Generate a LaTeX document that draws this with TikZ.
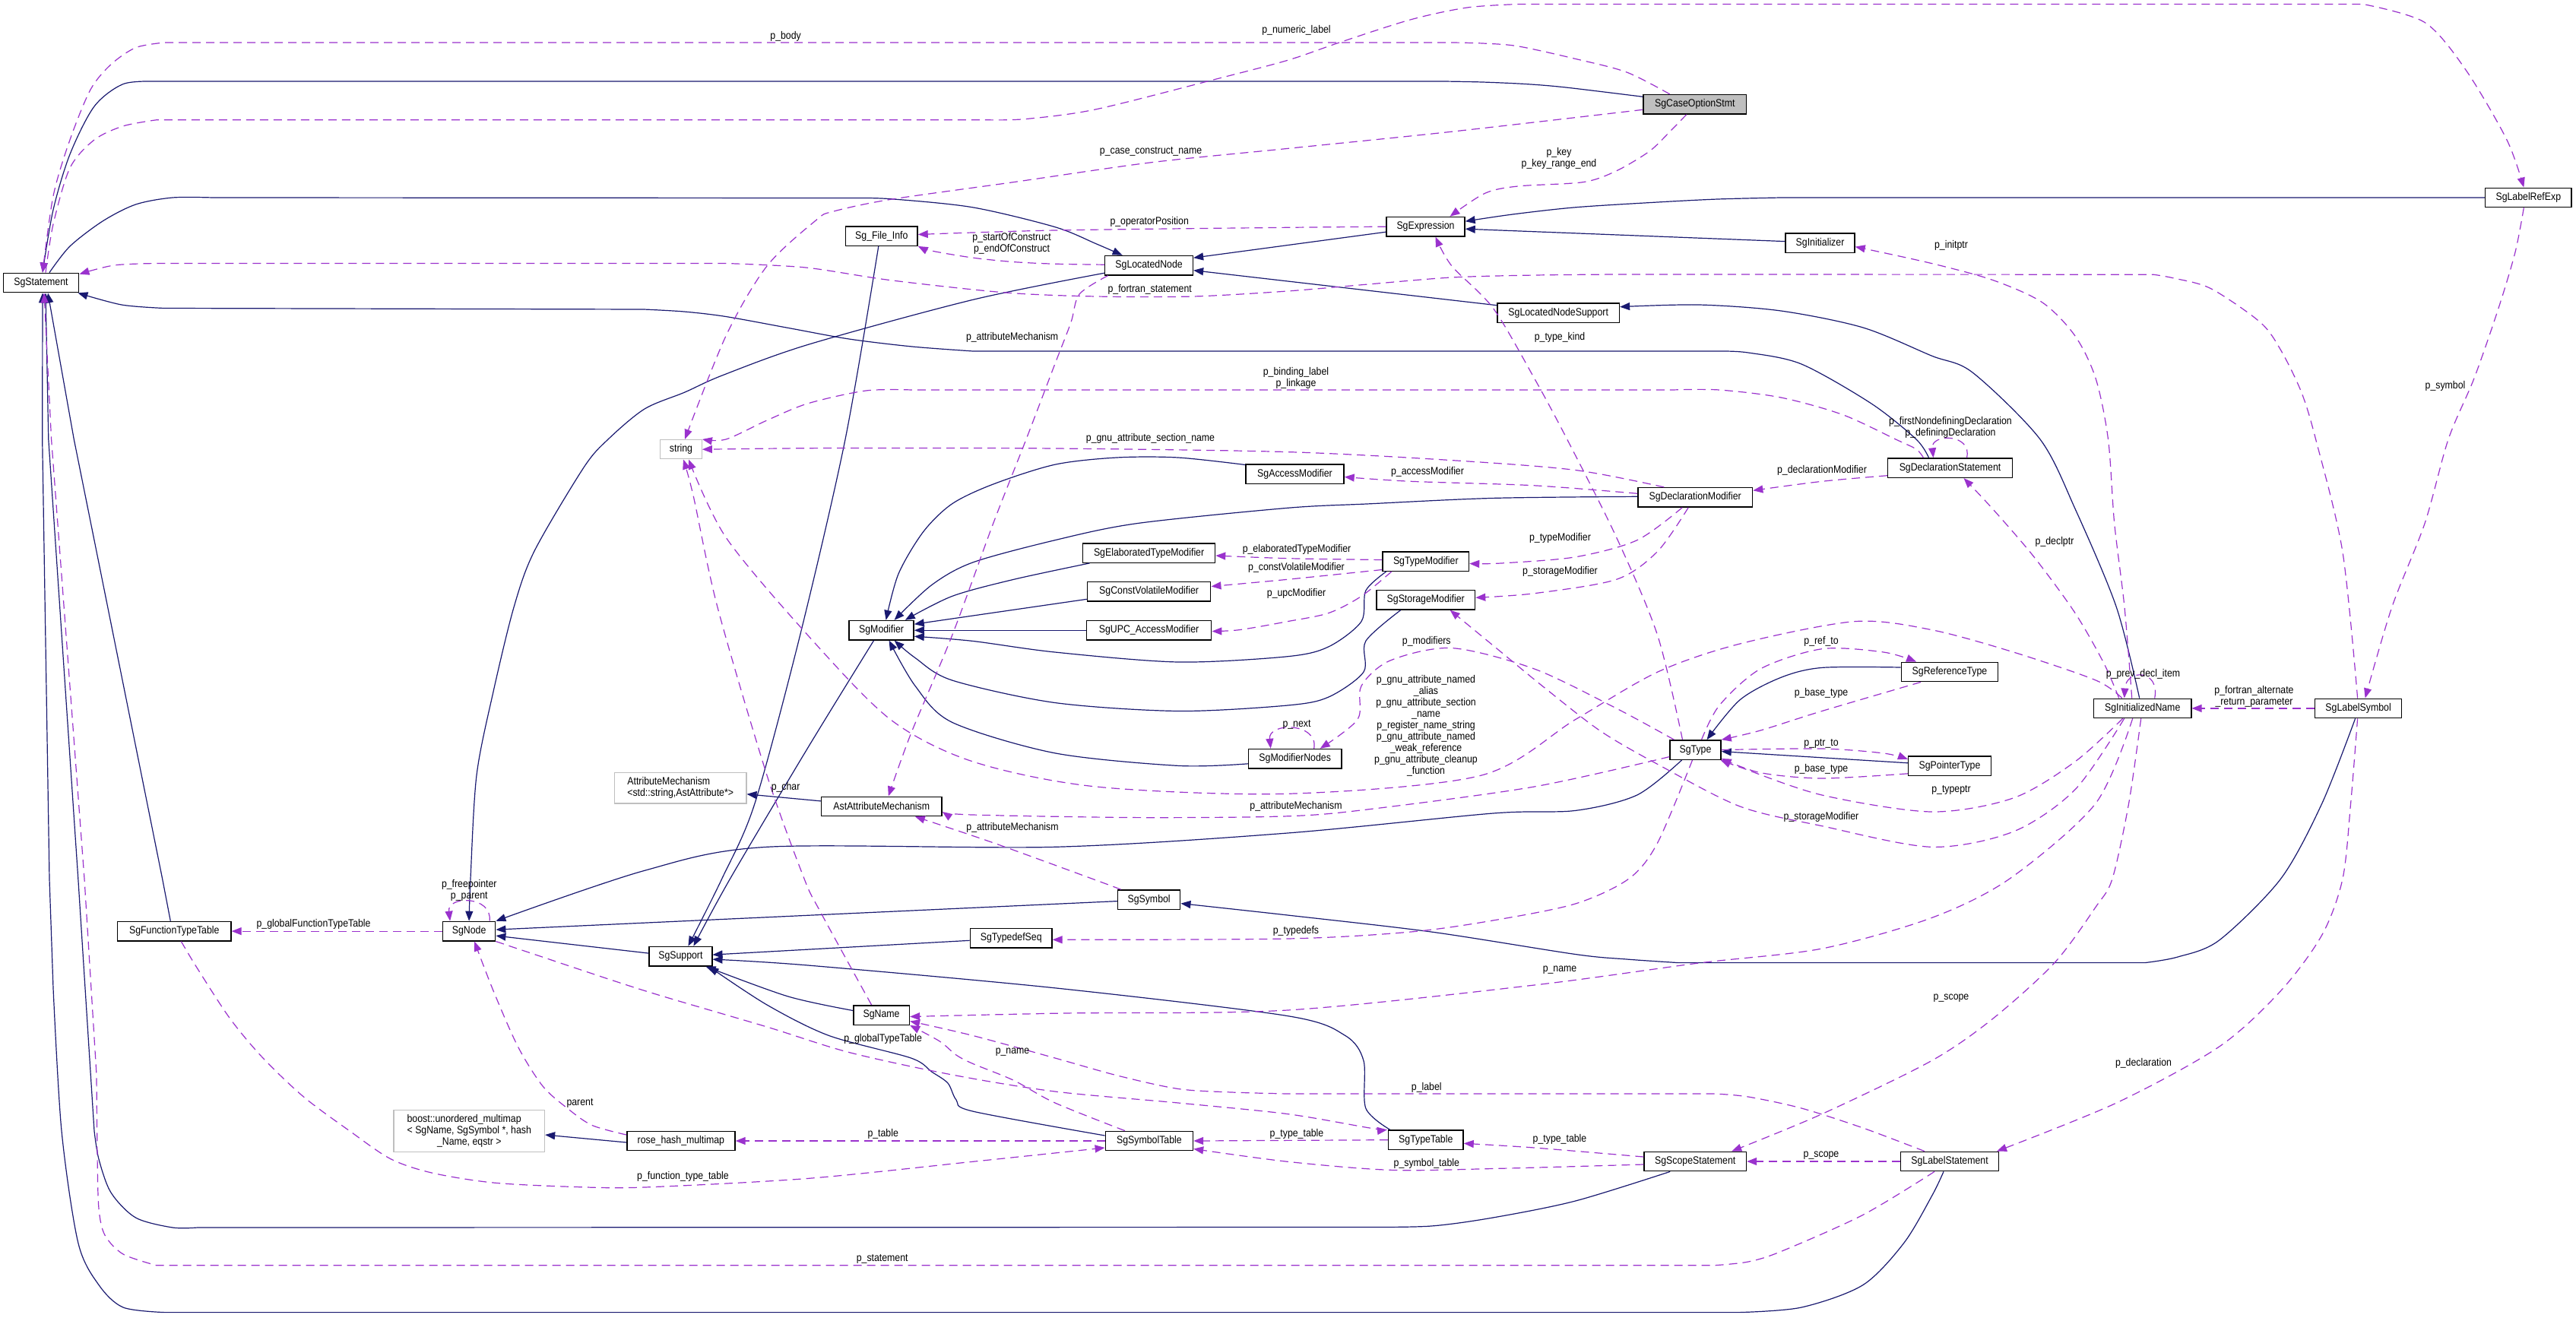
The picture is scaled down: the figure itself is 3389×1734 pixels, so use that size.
\documentclass[tikz,border=0pt]{standalone}
\usepackage{fontspec}
\setmainfont{Liberation Sans}[FakeStretch=0.88]
\usetikzlibrary{arrows.meta}
\definecolor{inhc}{HTML}{191970}
\definecolor{usec}{HTML}{9A32CD}
\definecolor{grayb}{HTML}{BFBFBF}
\newcommand\dgfont{\fontsize{14}{15}\selectfont}
\begin{document}
\begin{tikzpicture}[x=1pt,y=-1pt,
  cls/.style={draw=black, line width=1.4pt, fill=white, inner sep=0pt, minimum height=25.4pt, font=\dgfont},
  ext/.style={cls, draw=grayb, line width=1.1pt},
  inh/.style={draw=inhc, line width=1.2pt, -{Triangle[length=13pt,width=10pt]}},
  dep/.style={draw=usec, line width=1.2pt, dash pattern=on 11pt off 7pt, -{Triangle[length=13pt,width=10pt]}},
  lbl/.style={inner sep=0pt, font=\dgfont, align=center}]
\fill[white] (0,0) rectangle (3389,1734);
\useasboundingbox (0,0) rectangle (3389,1734);
% ---------------- classes ----------------
\node[cls, fill=grayb, minimum width=135.5pt] (CaseOpt) at (2229.8,137.3) {SgCaseOptionStmt};
\node[cls, minimum width=99.5pt] (Stmt) at (54,372) {SgStatement};
\node[cls, minimum width=113.5pt] (LabelRefExp) at (3326.3,260) {SgLabelRefExp};
\node[cls, minimum width=103pt] (Expr) at (1875.5,298.2) {SgExpression};
\node[cls, minimum width=94.5pt] (FileInfo) at (1159.8,310.5) {Sg\_File\_Info};
\node[cls, minimum width=115.7pt] (LocNode) at (1511.6,349.2) {SgLocatedNode};
\node[cls, minimum width=91pt] (Initializer) at (2394.5,319.6) {SgInitializer};
\node[cls, minimum width=160.4pt] (LNSupport) at (2050.2,411.7) {SgLocatedNodeSupport};
\node[cls, minimum width=164pt] (DeclStmt) at (2565.5,615.7) {SgDeclarationStatement};
\node[ext, minimum width=54.7pt] (Str) at (896,591.2) {string};
\node[cls, minimum width=129pt] (AccessMod) at (1703.5,623.5) {SgAccessModifier};
\node[cls, minimum width=150.8pt] (DeclMod) at (2230.2,654.3) {SgDeclarationModifier};
\node[cls, minimum width=174pt] (ElabMod) at (1511.6,727.5) {SgElaboratedTypeModifier};
\node[cls, minimum width=113.5pt] (TypeMod) at (1875.8,738.5) {SgTypeModifier};
\node[cls, minimum width=162.3pt] (ConstVol) at (1511.6,778.3) {SgConstVolatileModifier};
\node[cls, minimum width=129.8pt] (StorageMod) at (1875.7,789.3) {SgStorageModifier};
\node[cls, minimum width=85pt] (Modifier) at (1159.6,829.2) {SgModifier};
\node[cls, minimum width=164.3pt] (UPCAccess) at (1511.6,829.2) {SgUPC\_AccessModifier};
\node[cls, minimum width=127.2pt] (RefType) at (2565,884) {SgReferenceType};
\node[cls, minimum width=128.2pt] (InitName) at (2818.7,931.9) {SgInitializedName};
\node[cls, minimum width=114pt] (LabelSym) at (3102.6,931.9) {SgLabelSymbol};
\node[cls, minimum width=122.5pt] (ModNodes) at (1703.7,998.2) {SgModifierNodes};
\node[cls, minimum width=67pt] (SgTypeN) at (2230.5,986.6) {SgType};
\node[cls, minimum width=108.8pt] (PtrType) at (2565,1007.8) {SgPointerType};
\node[ext, minimum width=173.5pt, minimum height=40.4pt, align=left] (AttrMech) at (895.2,1036.8) {AttributeMechanism\\<std::string,AstAttribute*>};
\node[cls, minimum width=158.4pt] (AstAttr) at (1159.8,1060.9) {AstAttributeMechanism};
\node[cls, minimum width=149.3pt] (FuncTT) at (229.3,1225.1) {SgFunctionTypeTable};
\node[cls, minimum width=69.2pt] (SgNodeN) at (617.1,1225.1) {SgNode};
\node[cls, minimum width=82.3pt] (Symbol) at (1511.6,1183.6) {SgSymbol};
\node[cls, minimum width=107.6pt] (TypedefSeq) at (1330.2,1234.3) {SgTypedefSeq};
\node[cls, minimum width=82.8pt] (Support) at (895.4,1258.1) {SgSupport};
\node[cls, minimum width=73.6pt] (SgNameN) at (1159.6,1335.5) {SgName};
\node[ext, minimum width=198.6pt, minimum height=55pt] (Boost) at (617.3,1488) {\begin{tabular}{@{}l@{}}boost::unordered\_multimap\\< SgName, SgSymbol *, hash\\\multicolumn{1}{@{}c@{}}{\_Name, eqstr >}\end{tabular}};
\node[cls, minimum width=142.2pt] (RoseHash) at (895.9,1501) {rose\_hash\_multimap};
\node[cls, minimum width=115.2pt] (SymTable) at (1511.9,1501) {SgSymbolTable};
\node[cls, minimum width=98.5pt] (TypeTable) at (1875.8,1499.7) {SgTypeTable};
\node[cls, minimum width=134.5pt] (ScopeStmt) at (2230.2,1528) {SgScopeStatement};
\node[cls, minimum width=129.4pt] (LabelStmt) at (2565,1528) {SgLabelStatement};
% ---------------- inheritance ----------------
\draw[inh] plot[smooth,tension=0.5] coordinates {([yshift=10pt]CaseOpt.west) (2060,115) (2008,110.6) (1950,108) (1899,107)} -- plot[smooth,tension=0.5] coordinates {(205,107) (162,110.6) (124,140) (92,203) (70,276) ([xshift=2pt]Stmt.north)};
\draw[inh] plot[smooth,tension=0.5] coordinates {([xshift=11pt]Stmt.north) (92,324) (135,291) (178.5,269) (227,260) (280,260)} -- plot[smooth,tension=0.5] coordinates {(1120,260.5) (1171.5,261.7) (1279.6,272.8) (1387.8,298.6) (1442,320.7) ([xshift=-35pt]LocNode.north)};
\draw[inh] ([yshift=-7pt]Expr.west) -- ([yshift=10pt]LocNode.east);
\draw[inh] (LabelRefExp.west) -- plot[smooth,tension=0.5] coordinates {(2343,260) (2260,262) (2180.7,266) (2072.6,272.8) (1990,282) ([yshift=7pt]Expr.east)};
\draw[inh] ([yshift=2pt]Initializer.west) -- ([yshift=-3pt]Expr.east);
\draw[inh] plot[smooth,tension=0.5] coordinates {([yshift=-10pt]LocNode.west) (1279.6,394.4) (1063,453.4) (950,494) (901,516) (848,538) (800,578) (768,615) (703,725) (676,799) (649,910) (627,1020) (619,1156) (SgNodeN.north)};
\draw[inh] ([yshift=10pt]LNSupport.west) -- ([yshift=-6.5pt]LocNode.east);
\draw[inh] plot[smooth,tension=0.5] coordinates {([xshift=-28pt]DeclStmt.north) (2521,578) (2462,531) (2370,479) (2300,464) (2262,462)} -- plot[smooth,tension=0.5] coordinates {(1280,462) (1200,456) (1117,446) (1040,432) (955,416.5) (900,410) (847,407)} -- plot[smooth,tension=0.5] coordinates {(216,405.5) (160,401) ([xshift=-2pt]Stmt.south east)};
\draw[inh] plot[smooth,tension=0.5] coordinates {([xshift=-4pt]InitName.north) (2784.4,799) (2730.3,670) (2684,578) (2595,490) (2541,468) (2451,431) (2343,409) (2235,401) ([yshift=8pt]LNSupport.east)};
\draw[inh] plot[smooth,tension=0.5] coordinates {([xshift=-4pt]FileInfo.south) (1112,578) (1052.5,836) (993,1057) (949.8,1156) ([xshift=10pt]Support.north)};
\draw[inh] plot[smooth,tension=0.5] coordinates {([xshift=-10pt]Modifier.south) (1063,983.5) (960.6,1156) ([xshift=17pt]Support.north)};
\draw[inh] plot[smooth,tension=0.5] coordinates {([yshift=12pt]AccessMod.west) (1550,602) (1469,602) (1387.8,611.2) (1306.7,637) (1252.6,662.8) (1214.7,699.6) (1182,755) ([xshift=6pt]Modifier.north)};
\draw[inh] plot[smooth,tension=0.5] coordinates {([yshift=1pt]DeclMod.west) (1964,655.4) (1802,662.8) (1694,668.3) (1496,688.6) (1387.8,710.7) (1279.6,740) (1225.6,769.7) ([xshift=17pt]Modifier.north)};
\draw[inh] plot[smooth,tension=0.5] coordinates {([xshift=-78pt]ElabMod.south) (1333.7,762.3) (1252.6,784.4) ([xshift=-12pt]Modifier.north east)};
\draw[inh] ([yshift=-10pt]ConstVol.west) -- ([yshift=8pt]Modifier.east);
\draw[inh] (UPCAccess.west) -- (Modifier.east);
\draw[inh] plot[smooth,tension=0.5] coordinates {([xshift=-52pt]TypeMod.south) (1796.8,777) (1791,817.6) (1748,850.8) (1694,863.7) (1550,871) (1387.8,858) (1279.6,843.4) ([yshift=-8pt]Modifier.east)};
\draw[inh] plot[smooth,tension=0.5] coordinates {([xshift=-33pt]StorageMod.south) (1796.8,843.4) (1794,884) (1748,917) (1694,928) (1550,935.5) (1387.8,924.5) (1252.6,895) (1204,865.5) ([xshift=17pt]Modifier.south)};
\draw[inh] plot[smooth,tension=0.5] coordinates {([yshift=-6.6pt]ModNodes.west) (1550,1007.4) (1387.8,990.8) (1252.6,950.3) (1204,902.4) ([xshift=10pt]Modifier.south)};
\draw[inh] ([yshift=7pt]AstAttr.west) -- ([yshift=-8pt]AttrMech.east);
\draw[inh] plot[smooth,tension=0.5] coordinates {([xshift=-18pt]SgTypeN.south) (2153.7,1046) (2072.6,1066.4) (1964.4,1070) (1694,1096) (1387.8,1114.3) (1009,1114.3) (847,1145.6) (SgNodeN.north east)};
\draw[inh] plot[smooth,tension=0.5] coordinates {([yshift=6pt]RefType.west) (2397,878.4) (2343,891.3) (2289,920.8) ([xshift=15pt]SgTypeN.north)};
\draw[inh] ([yshift=4pt]PtrType.west) -- ([yshift=-2pt]SgTypeN.east);
\draw[inh] ([yshift=-2pt]Symbol.west) -- ([yshift=2pt]SgNodeN.east);
\draw[inh] plot[smooth,tension=0.5] coordinates {([xshift=-4pt]LabelSym.south) (3054.8,1057) (3000.7,1156) (2919.6,1237) (2865,1259) (2822,1266.6)} -- plot[smooth,tension=0.5] coordinates {(2207.8,1266.6) (2140,1262) (2072.6,1255.5) (1883,1226) (1694,1204) ([yshift=-5pt]Symbol.east)};
\draw[inh] ([yshift=-3pt]TypedefSeq.west) -- ([yshift=2pt]Support.east);
\draw[inh] plot[smooth,tension=0.5] coordinates {([yshift=6pt]SgNameN.west) (1036.3,1310.8) ([xshift=-9pt]Support.south east)};
\draw[inh] plot[smooth,tension=0.5] coordinates {([yshift=7pt]SymTable.west) (1279.6,1462) (1258,1447) (1247,1425) (1225.6,1410) (1198.5,1392) (1090.4,1362.4) (1009,1322) ([xshift=-5pt]Support.south east)};
\draw[inh] plot[smooth,tension=0.5] coordinates {([xshift=-47pt]TypeTable.north) (1796.8,1458) (1794,1395.6) (1769.7,1362.4) (1694,1336.6) (1387.8,1299.8) (1063,1270) ([yshift=-4pt]Support.east)};
\draw[inh] ([yshift=4pt]Support.west) -- ([yshift=-6pt]SgNodeN.east);
\draw[inh] ([xshift=-5pt]FuncTT.north) -- (213.6,1156) -- (97.3,578) -- ([xshift=9pt]Stmt.south);
\draw[inh] plot[smooth,tension=0.5] coordinates {([xshift=-33pt]ScopeStmt.south) (2072.6,1580) (1964,1602) (1883,1613) (1800,1614.5)} -- plot[smooth,tension=0.5] coordinates {(260,1615) (227,1615) (178.5,1602) (146,1569) (130,1525) (124,1488)} -- (102.8,1156) -- (63.8,578) -- ([xshift=6pt]Stmt.south);
\draw[inh] plot[smooth,tension=0.5] coordinates {([xshift=-8pt]LabelStmt.south) (2542,1572.5) (2505,1635) (2451,1690.5) (2370,1720) (2289,1726.6)} -- plot[smooth,tension=0.5] coordinates {(216,1726.6) (162,1720) (130,1690.5) (102.8,1635) (81,1487.7) (70,1300)} -- (65,1156) -- (55.7,578) -- ([xshift=2pt]Stmt.south);
\draw[inh] ([yshift=-2pt]RoseHash.west) -- ([yshift=-5pt]Boost.east);
% ---------------- usage ----------------
\draw[dep] plot[smooth,tension=0.5] coordinates {([xshift=-33pt]CaseOpt.north) (2140,95) (2072.6,77.4) (1997,60.8) (1950,57) (1910,56)} -- plot[smooth,tension=0.5] coordinates {(216,56) (178.5,62.7) (146,84.8) (119,118) (92,184) (70,258) ([xshift=2pt]Stmt.north)};
\draw[dep] plot[smooth,tension=0.5] coordinates {([xshift=6pt]Stmt.north) (70,295) (92,221) (124,184) (162,165.9) (205.5,157.8)} -- plot[smooth,tension=0.5] coordinates {(1300,157.8) (1350,156.5) (1442,143.8) (1604,103) (1695,79) (1764,55.3) (1856,25.8) (1930,10) (1997,5.5)} -- plot[smooth,tension=0.5] coordinates {(3109,5.5) (3190,29.5) (3244,92) (3298,184) ([xshift=-6pt]LabelRefExp.north)};
\draw[dep] plot[smooth,tension=0.5] coordinates {([yshift=-7pt]CaseOpt.west) (1910,173.2) (1694,195.4) (1514,213.8) (1333.7,239.6) (1171.5,262.4) (1095.8,278.3) (1074,289.4) (1009,350) (955,442) ([xshift=5pt]Str.north)};
\draw[dep] plot[smooth,tension=0.5] coordinates {([xshift=-11pt]CaseOpt.south) (2197,173) (2170,199) (2126.6,224.8) (2083,239.6) (1997,245) (1953.6,254.3) ([xshift=32pt]Expr.north)};
\draw[dep] plot[smooth,tension=0.5] coordinates {(Expr.west) (1694,299.3) (1387.8,303) ([yshift=2pt]FileInfo.east)};
\draw[dep] plot[smooth,tension=0.5] coordinates {([yshift=1pt]LocNode.west) (1387.8,347.2) (1333.7,344.6) (1279.6,339.1) (1225.6,330) (FileInfo.south east)};
\draw[dep] plot[smooth,tension=0.5] coordinates {([xshift=-1pt]LabelSym.north) (3081.8,725.4) (3046.6,578) (3027.7,516) (3000.7,460.8) (2973.6,424) (2908.7,379.7) (2860,366) (2833,361.2)} -- plot[smooth,tension=0.5] coordinates {(2127,361) (2020,362) (1910,365) (1800,374) (1694,383) (1570,390) (1442,390) (1323,385) (1171,368.6) (1060,352) (955,346.5)} -- plot[smooth,tension=0.5] coordinates {(205.5,346.5) (150,349) ([yshift=-2pt]Stmt.north east)};
\draw[dep] plot[smooth,tension=0.5] coordinates {([xshift=-54pt]LocNode.south) (1420,387) (1409,424) (1387.8,479) (1350,578) (1306.7,688.6) (1252.6,836) (1198.5,965) ([xshift=9pt]AstAttr.north)};
\draw[dep] plot[smooth,tension=0.5] coordinates {([xshift=-35pt]DeclStmt.north) (2521,591) (2494,578) (2424,545.5) (2343,523) (2262,513) (2200,513)} -- plot[smooth,tension=0.5] coordinates {(1200,513) (1139,514) (1063,530.8) (1009,553) (955,578) (Str.north east)};
\draw[dep] plot[smooth,tension=0.5] coordinates {([xshift=-41pt]DeclMod.north) (2072.6,618.5) (1910,605.6) (1694,594.6) (1387.8,590) (1100,589.5) (Str.east)};
\draw[dep] plot[smooth,tension=0.5] coordinates {([yshift=5pt]DeclMod.west) (2018.5,638.8) (1856,633.3) ([yshift=-4pt]AccessMod.east)};
\draw[dep] plot[smooth,tension=0.5] coordinates {([yshift=-10pt]DeclStmt.west) (2397,633.3) ([yshift=9pt]DeclMod.east)};
\draw[dep] plot[smooth,tension=0.5] coordinates {([yshift=2pt]TypeMod.west) (1695,734.7) ([yshift=-3.5pt]ElabMod.east)};
\draw[dep] plot[smooth,tension=0.5] coordinates {([yshift=-11pt]TypeMod.west) (1694,762.3) ([yshift=6.8pt]ConstVol.east)};
\draw[dep] plot[smooth,tension=0.5] coordinates {([xshift=-45pt]TypeMod.south) (1791,784.4) (1748,806.5) (1694,817.6) (1631,828.6) ([yshift=-1.3pt]UPCAccess.east)};
\draw[dep] plot[smooth,tension=0.5] coordinates {([xshift=-17pt]DeclMod.south) (2153.7,710.7) (2072.6,732.8) (1975,741) ([yshift=-3pt]TypeMod.east)};
\draw[dep] plot[smooth,tension=0.5] coordinates {([xshift=-9pt]DeclMod.south) (2180.7,725.4) (2126.6,762.3) (2018.5,780.7) ([yshift=3pt]StorageMod.east)};
\draw[dep] plot[smooth,tension=0.5] coordinates {([xshift=-28pt]SgTypeN.north) (2126.6,932) (2018.5,880) (1910,852.6) (1829,869) (1791,902.4) (1786,946.6) ([xshift=33pt]ModNodes.north)};
\draw[dep] ([xshift=25pt]ModNodes.north) .. controls (1735,950) and (1668,950) .. ([xshift=-32pt]ModNodes.north);
\draw[dep] plot[smooth,tension=0.5] coordinates {([xshift=-27pt]InitName.north) (2757.3,895) (2649,858) (2541,828.6) (2440,817.6) (2289,847) (2181,884) (2072.6,946.6) (1948,1020.3) (1694,1044.3) (1442,1035) (1280,1002) (1171.5,946.6) (1063,836) (955,707) ([xshift=10pt]Str.south)};
\draw[dep] plot[smooth,tension=0.5] coordinates {([xshift=8pt]SgTypeN.north) (2262,928) (2316,880) (2397,853.7) (2478,858) ([xshift=-44pt]RefType.north)};
\draw[dep] plot[smooth,tension=0.5] coordinates {([xshift=-38pt]RefType.south) (2397,935.5) (2316,961) (SgTypeN.north east)};
\draw[dep] plot[smooth,tension=0.5] coordinates {(SgTypeN.east) (2397,985) (2478,991) ([yshift=9pt]PtrType.west)};
\draw[dep] plot[smooth,tension=0.5] coordinates {([yshift=-10pt]PtrType.west) (2397,1024) (2316,1016.6) ([yshift=2pt]SgTypeN.south east)};
\draw[dep] plot[smooth,tension=0.5] coordinates {([xshift=-24pt]InitName.south) (2730,1038.8) (2649,1094) (2541,1114.3) (2397,1086.7) (2289,1060.9) (2181,1005.6) (2105,961.4) (2029,902.4) (1975,858) ([xshift=32pt]StorageMod.south)};
\draw[dep] plot[smooth,tension=0.5] coordinates {([xshift=-26pt]InitName.south) (2730,1002) (2649,1049.8) (2541,1068) (2397,1046) (2289,1009.3) ([xshift=-1pt]SgTypeN.south east)};
\draw[dep] plot[smooth,tension=0.5] coordinates {([yshift=-9pt]SgTypeN.west) (2018.5,1035) (1802,1064.6) (1694,1073.8) (1496,1075.6) (1279.6,1072) ([yshift=-7pt]AstAttr.east)};
\draw[dep] plot[smooth,tension=0.5] coordinates {([xshift=-17pt]SgTypeN.north) (2180.7,836) (2126.6,707) (2061.7,578) (2018.5,497.6) (1964.4,405.5) (1910,350) ([xshift=13pt]Expr.south)};
\draw[dep] plot[smooth,tension=0.5] coordinates {([xshift=-14pt]InitName.north) (2795,799) (2781.7,688.6) (2773.5,578) (2757,497.6) (2730,442) (2687,398) (2622,368.6) (2541,346.5) ([yshift=-5pt]Initializer.east)};
\draw[dep] plot[smooth,tension=0.5] coordinates {([xshift=-31pt]InitName.north) (2768,872.9) (2730,806.5) (2676,732.8) (2622,670) ([xshift=18pt]DeclStmt.south)};
\draw[dep] ([xshift=16pt]InitName.north) .. controls (2842,880) and (2797,880) .. ([xshift=-24pt]InitName.north);
\draw[dep] (LabelSym.west) -- (InitName.east);
\draw[dep] plot[smooth,tension=0.5] coordinates {([xshift=-6pt]LabelRefExp.south) (3309,331.7) (3287,405.5) (3255,497.6) (3221,578) (3190,688.6) (3146.7,799) ([xshift=9pt]LabelSym.north)};
\draw[dep] plot[smooth,tension=0.5] coordinates {([xshift=-13pt]InitName.south) (2757,1057) (2644,1156) (2541,1207.6) (2397,1248) (2235,1267) (2018.5,1296) (1694,1329) (1400,1333) ([yshift=-2pt]SgNameN.east)};
\draw[dep] plot[smooth,tension=0.5] coordinates {([xshift=-32pt]SymTable.north) (1387.8,1450.9) (1333.7,1421.4) (1279.6,1399.3) (1258,1388) (1236,1369.8) (SgNameN.south east)};
\draw[dep] plot[smooth,tension=0.5] coordinates {([xshift=-33pt]LabelStmt.north) (2451,1484) (2370,1458) (2300,1443) (2256.4,1439)} -- plot[smooth,tension=0.5] coordinates {(1694,1439) (1620,1437) (1550,1432.5) (1470,1415) (1388,1392) (1279.6,1362.4) ([yshift=-8pt]SgNameN.east)};
\draw[dep] plot[smooth,tension=0.5] coordinates {([yshift=8pt]RoseHash.west) (778.8,1480.4) (746.3,1458) (713.9,1428.8) (681.4,1377) (649,1303.4) ([xshift=7pt]SgNodeN.south)};
\draw[dep] (SgNodeN.west) -- (FuncTT.east);
\draw[dep] plot[smooth,tension=0.5] coordinates {(SgNodeN.south east) (703,1255.5) (848,1303.4) (1009,1351) (1117,1384.5) (1252.6,1414) (1387.8,1436) (1550,1451) (1694,1465.6) (1802,1484) ([xshift=-1pt]TypeTable.north west)};
\draw[dep] plot[smooth,tension=0.5] coordinates {([xshift=-4pt]SgTypeN.south) (2180.7,1108.8) (2143,1156) (2072.6,1189) (1964,1211) (1856,1226) (1694,1235) ([yshift=-2pt]TypedefSeq.east)};
\draw[dep] (SymTable.west) -- (RoseHash.east);
\draw[dep] plot[smooth,tension=0.5] coordinates {([xshift=9pt]FuncTT.south) (259.6,1274) (302.8,1340.3) (346,1392) (400,1443.5) (459.7,1487.7) (513.8,1524.6) (568,1543) (649,1556) (757,1561.5) (848,1562) (1063,1550.4) (1279.6,1528.3) ([yshift=-9pt]SymTable.west)};
\draw[dep] (TypeTable.west) -- (SymTable.east);
\draw[dep] plot[smooth,tension=0.5] coordinates {([yshift=-4pt]ScopeStmt.west) (1964.4,1537.5) (1829,1539.3) (1694,1528.3) ([yshift=-10.5pt]SymTable.east)};
\draw[dep] plot[smooth,tension=0.5] coordinates {([yshift=6pt]ScopeStmt.west) (2018.5,1510) ([yshift=-4.6pt]TypeTable.east)};
\draw[dep] (LabelStmt.west) -- (ScopeStmt.east);
\draw[dep] plot[smooth,tension=0.5] coordinates {([xshift=-2pt]InitName.south) (2800.6,1057) (2779,1156) (2757.3,1193) (2703,1266.6) (2622,1340) (2541,1395.6) (2397,1465.6) ([xshift=48pt]ScopeStmt.north)};
\draw[dep] plot[smooth,tension=0.5] coordinates {([xshift=-1pt]LabelSym.south) (3092.6,1057) (3082,1156) (3055,1229.7) (3000.7,1303.4) (2919.6,1377) (2784.4,1451) ([xshift=62pt]LabelStmt.north)};
\draw[dep] plot[smooth,tension=0.5] coordinates {([xshift=-20pt]LabelStmt.south) (2451,1598.3) (2343,1646.5) (2300,1660) (2256.4,1664.7)} -- plot[smooth,tension=0.5] coordinates {(205.5,1664.7) (162,1650) (138,1625) (130,1590) (128,1520) (127,1414)} -- (111,1156) -- (67.6,578) -- ([xshift=4pt]Stmt.south);
\draw[dep] plot[smooth,tension=0.5] coordinates {([xshift=-37pt]Symbol.north) (1436.5,1156) (1306.7,1108.8) ([xshift=44pt]AstAttr.south)};
\draw[dep] plot[smooth,tension=0.5] coordinates {([xshift=-13pt]SgNameN.north) (1079.5,1200) (1058,1156) (1009,1020) (944,799) (912,651.7) ([xshift=3pt]Str.south)};
\draw[dep] ([xshift=22pt]DeclStmt.north) .. controls (2595,570) and (2540,570) .. ([xshift=-22pt]DeclStmt.north);
\draw[dep] ([xshift=27pt]SgNodeN.north) .. controls (648,1178) and (588,1178) .. ([xshift=-25pt]SgNodeN.north);
% ---------------- labels ----------------
\node[lbl] (l01) at (1033.6,48) {p\_body};
\node[lbl] (l02) at (1705.5,40) {p\_numeric\_label};
\node[lbl] (l03) at (1514,199) {p\_case\_construct\_name};
\node[lbl] (l04) at (2051,208.3) {p\_key\\p\_key\_range\_end};
\node[lbl] (l05) at (1512.2,292) {p\_operatorPosition};
\node[lbl] (l06) at (1331,320) {p\_startOfConstruct\\p\_endOfConstruct};
\node[lbl] (l07) at (1512.7,380.4) {p\_fortran\_statement};
\node[lbl] (l08) at (1331.6,443.4) {p\_attributeMechanism};
\node[lbl] (l09) at (2052,443.4) {p\_type\_kind};
\node[lbl] (l10) at (1705,497.5) {p\_binding\_label\\p\_linkage};
\node[lbl] (l11) at (2567,323) {p\_initptr};
\node[lbl] (l12) at (3217,508) {p\_symbol};
\node[lbl] (l13) at (2566,562.7) {p\_firstNondefiningDeclaration\\p\_definingDeclaration};
\node[lbl] (l14) at (1513.5,577) {p\_gnu\_attribute\_section\_name};
\node[lbl] (l15) at (1878,621) {p\_accessModifier};
\node[lbl] (l16) at (2397,619.3) {p\_declarationModifier};
\node[lbl] (l17) at (2703,713) {p\_declptr};
\node[lbl] (l18) at (2052.5,708) {p\_typeModifier};
\node[lbl] (l19) at (1706,722.5) {p\_elaboratedTypeModifier};
\node[lbl] (l20) at (1705.5,746.5) {p\_constVolatileModifier};
\node[lbl] (l21) at (2052.5,751.6) {p\_storageModifier};
\node[lbl] (l22) at (1705.6,780.4) {p\_upcModifier};
\node[lbl] (l23) at (1876.8,843.4) {p\_modifiers};
\node[lbl] (l24) at (2396,843.4) {p\_ref\_to};
\node[lbl] (l25) at (2819.5,887) {p\_prev\_decl\_item};
\node[lbl] (l26) at (2965.5,916.4) {p\_fortran\_alternate\\\_return\_parameter};
\node[lbl] (l27) at (2396,911.6) {p\_base\_type};
\node[lbl] (l28) at (1706,953.2) {p\_next};
\node[lbl] (l29) at (1876,954.7) {p\_gnu\_attribute\_named\\\_alias\\p\_gnu\_attribute\_section\\\_name\\p\_register\_name\_string\\p\_gnu\_attribute\_named\\\_weak\_reference\\p\_gnu\_attribute\_cleanup\\\_function};
\node[lbl] (l30) at (2396,978.7) {p\_ptr\_to};
\node[lbl] (l31) at (2396,1011.5) {p\_base\_type};
\node[lbl] (l32) at (1033.6,1035.8) {p\_char};
\node[lbl] (l33) at (2567,1039.5) {p\_typeptr};
\node[lbl] (l34) at (1705,1060.9) {p\_attributeMechanism};
\node[lbl] (l35) at (2396,1074.5) {p\_storageModifier};
\node[lbl] (l36) at (1332,1088.5) {p\_attributeMechanism};
\node[lbl] (l37) at (617.3,1171.8) {p\_freepointer\\p\_parent};
\node[lbl] (l38) at (412.6,1216) {p\_globalFunctionTypeTable};
\node[lbl] (l39) at (1705,1224.6) {p\_typedefs};
\node[lbl] (l40) at (2052,1275.8) {p\_name};
\node[lbl] (l41) at (2567,1312.7) {p\_scope};
\node[lbl] (l42) at (1161.7,1367.2) {p\_globalTypeTable};
\node[lbl] (l43) at (1332,1383.8) {p\_name};
\node[lbl] (l44) at (2820,1398.5) {p\_declaration};
\node[lbl] (l45) at (1876.8,1430.6) {p\_label};
\node[lbl] (l46) at (763,1451.6) {parent};
\node[lbl] (l47) at (1161.7,1492) {p\_table};
\node[lbl] (l48) at (1706,1491.4) {p\_type\_table};
\node[lbl] (l49) at (2052,1498.8) {p\_type\_table};
\node[lbl] (l50) at (2396,1519.8) {p\_scope};
\node[lbl] (l51) at (1876.8,1531.2) {p\_symbol\_table};
\node[lbl] (l52) at (898.5,1547.5) {p\_function\_type\_table};
\node[lbl] (l53) at (1160.7,1656.6) {p\_statement};
\end{tikzpicture}
\end{document}
